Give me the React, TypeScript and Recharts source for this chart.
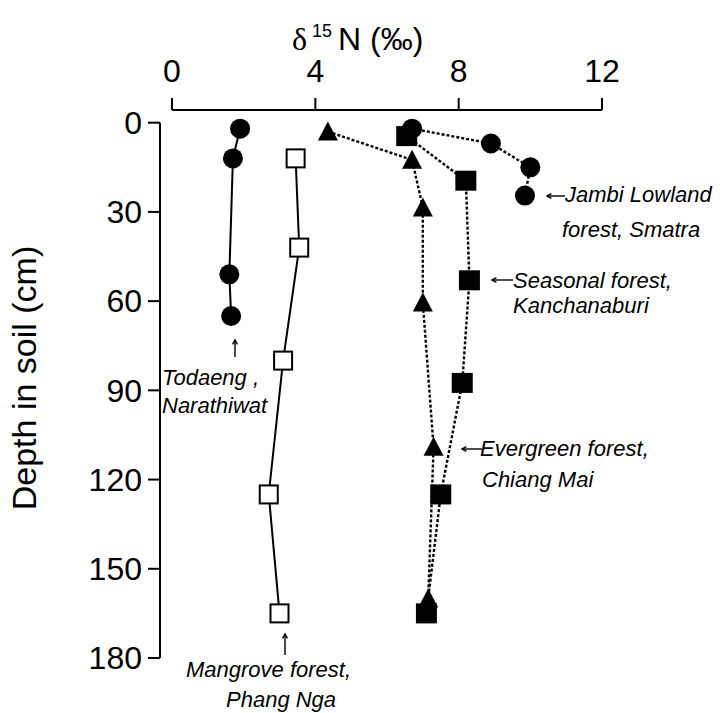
import React from 'react';
import { ScatterChart, Scatter, XAxis, YAxis, ReferenceLine, Customized } from 'recharts';

// δ15N (‰) and depth (cm) for each soil profile
const todaengN = [1.9, 1.7, 1.6, 1.65];
const todaengDepth = [2, 12, 51, 65];
const mangroveN = [3.45, 3.55, 3.1, 2.7, 3.0];
const mangroveDepth = [12, 42, 80, 125, 165];
const evergreenN = [4.35, 6.7, 7.0, 7.0, 7.3, 7.15];
const evergreenDepth = [3, 12.5, 28.5, 60.5, 109, 160];
const seasonalN = [6.55, 8.2, 8.3, 8.1, 7.5, 7.1];
const seasonalDepth = [4.5, 19.5, 53, 87.5, 125, 165];
const jambiN = [6.7, 8.9, 10.0, 9.85];
const jambiDepth = [2, 7, 15, 24.5];

const xTicks = [0, 4, 8, 12];
const yTicks = [0, 30, 60, 90, 120, 150, 180];

// axes sit a little away from the plot, so the domains start just past 0
const X_MIN = -0.335;
const Y_MIN = -4.27;

const SANS = '"Liberation Sans", Arial, Helvetica, sans-serif';

const profile = (n: number[], d: number[]) => n.map((v, i) => ({ d15n: v, depth: d[i] }));

const FilledCircle = (p: any) => <circle cx={p.cx} cy={p.cy} r={10} fill="#000" />;
const OpenSquare = (p: any) => (
  <rect x={p.cx - 9} y={p.cy - 9} width={18} height={18} fill="#fff" stroke="#000" strokeWidth={2} />
);
const FilledSquare = (p: any) => <rect x={p.cx - 10.5} y={p.cy - 10} width={21} height={20} fill="#000" />;
const Triangle = (p: any) => (
  <polygon points={`${p.cx},${p.cy - 10} ${p.cx + 10},${p.cy + 9} ${p.cx - 10},${p.cy + 9}`} fill="#000" />
);

const solid = { stroke: '#000', strokeWidth: 2 };
const dotted = { stroke: '#000', strokeWidth: 2.4, strokeDasharray: '3 2' };

// thin pointer arrow, head at (x2, y2)
const Pointer = ({ x1, y1, x2, y2 }: { x1: number; y1: number; x2: number; y2: number }) => {
  const a = Math.atan2(y2 - y1, x2 - x1);
  const h = 5;
  const p1 = [x2 - h * Math.cos(a - 0.5), y2 - h * Math.sin(a - 0.5)];
  const p2 = [x2 - h * Math.cos(a + 0.5), y2 - h * Math.sin(a + 0.5)];
  return (
    <g stroke="#000" strokeWidth={1.4} fill="none">
      <line x1={x1} y1={y1} x2={x2} y2={y2} />
      <polyline points={`${p1[0]},${p1[1]} ${x2},${y2} ${p2[0]},${p2[1]}`} />
    </g>
  );
};

const Annotations = () => (
  <g fontFamily={SANS} fill="#000">
    <text x={292} y={50} fontSize={32}>
      <tspan fontFamily='"Liberation Serif", serif'>δ</tspan>
      <tspan fontSize={18} dy={-13} dx={5}>15</tspan>
      <tspan dy={13} dx={6}>N (‰)</tspan>
    </text>
    <text x={36} y={378} fontSize={34} textAnchor="middle" transform="rotate(-90, 36, 378)">
      Depth in soil (cm)
    </text>
    <Pointer x1={565} y1={196} x2={547} y2={196} />
    <Pointer x1={513} y1={280} x2={492} y2={280} />
    <Pointer x1={482} y1={449} x2={462} y2={449} />
    <Pointer x1={235} y1={357} x2={235} y2={340} />
    <Pointer x1={285} y1={655} x2={285} y2={634} />
    <g fontSize={22} fontStyle="italic">
      <text x={565} y={202}>Jambi Lowland</text>
      <text x={562} y={237}>forest, Smatra</text>
      <text x={513} y={288}>Seasonal forest,</text>
      <text x={513} y={313}>Kanchanaburi</text>
      <text x={480} y={456}>Evergreen forest,</text>
      <text x={482} y={487}>Chiang Mai</text>
      <text x={162} y={385}>Todaeng ,</text>
      <text x={162} y={413}>Narathiwat</text>
      <text x={186} y={677}>Mangrove forest,</text>
      <text x={226} y={707}>Phang Nga</text>
    </g>
  </g>
);

export default function App() {
  const tickStyle = { fill: '#000', fontSize: 32, fontFamily: SANS };
  return (
    <div style={{ position: 'absolute', left: 0, top: 0, width: 720, height: 713, background: '#fff' }}>
      <ScatterChart width={720} height={713} margin={{ top: 0, right: 118, bottom: 55, left: 0 }}>
        <XAxis
          type="number"
          dataKey="d15n"
          orientation="top"
          domain={[X_MIN, 12]}
          ticks={xTicks}
          interval={0}
          height={110}
          axisLine={false}
          tickLine={{ stroke: '#000', strokeWidth: 2 }}
          tickSize={12}
          tickMargin={16}
          tick={tickStyle}
          allowDataOverflow
        />
        <YAxis
          type="number"
          dataKey="depth"
          reversed
          domain={[Y_MIN, 180]}
          ticks={yTicks}
          interval={0}
          width={160}
          axisLine={false}
          tickLine={{ stroke: '#000', strokeWidth: 2 }}
          tickSize={12}
          tickMargin={6}
          tick={tickStyle}
          allowDataOverflow
        />
        <ReferenceLine
          segment={[{ x: 0, y: Y_MIN }, { x: 12, y: Y_MIN }]}
          stroke="#000"
          strokeWidth={2}
          ifOverflow="visible"
        />
        <ReferenceLine
          segment={[{ x: X_MIN, y: 0 }, { x: X_MIN, y: 180 }]}
          stroke="#000"
          strokeWidth={2}
          ifOverflow="visible"
        />
        <Scatter data={profile(todaengN, todaengDepth)} line={solid} shape={FilledCircle} isAnimationActive={false} />
        <Scatter data={profile(mangroveN, mangroveDepth)} line={solid} shape={OpenSquare} isAnimationActive={false} />
        <Scatter data={profile(evergreenN, evergreenDepth)} line={dotted} shape={Triangle} isAnimationActive={false} />
        <Scatter data={profile(seasonalN, seasonalDepth)} line={dotted} shape={FilledSquare} isAnimationActive={false} />
        <Scatter data={profile(jambiN, jambiDepth)} line={dotted} shape={FilledCircle} isAnimationActive={false} />
        <Customized component={Annotations} />
      </ScatterChart>
    </div>
  );
}
